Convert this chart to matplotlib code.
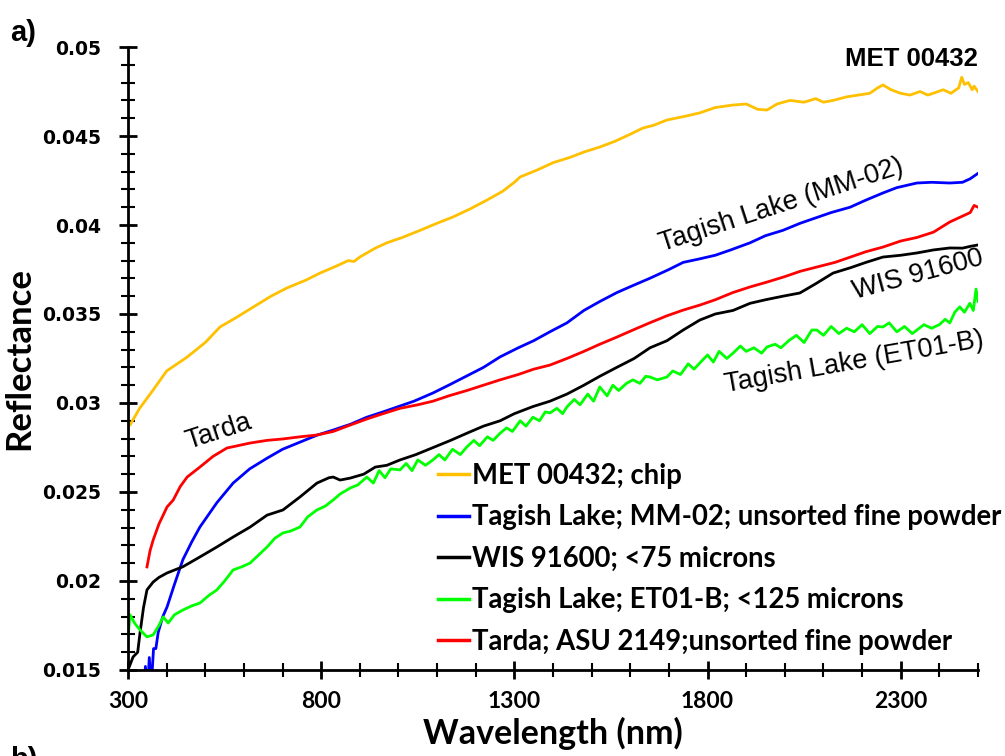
import matplotlib
matplotlib.use("Agg")
import matplotlib.pyplot as plt
from matplotlib.ticker import MultipleLocator

# ---- data (wavelength nm, reflectance) ----
met_wl = [300, 305, 330, 365, 400, 453, 500, 538, 580, 624, 670, 711, 760, 797, 840, 870, 885, 900,
          940, 970, 1010, 1056, 1100, 1141, 1185, 1229, 1270, 1300, 1315, 1360, 1400, 1444, 1480,
          1521, 1560, 1600, 1633, 1660, 1695, 1740, 1780, 1820, 1866, 1900, 1930, 1954, 1980, 2013,
          2050, 2080, 2100, 2125, 2160, 2190, 2220, 2240, 2254, 2275, 2300, 2324, 2350, 2370, 2384,
          2410, 2430, 2450, 2458, 2465, 2475, 2485, 2490, 2500]
met_r = [0.0287, 0.02876, 0.0297, 0.03073, 0.0318, 0.03258, 0.0334, 0.03427, 0.0348, 0.03539,
         0.0360, 0.03646, 0.0369, 0.0373, 0.0377, 0.0380, 0.03795, 0.0382, 0.0387, 0.0390, 0.0393,
         0.0397, 0.0401, 0.04045, 0.0409, 0.0414, 0.0419, 0.0424, 0.0427, 0.0431, 0.0435, 0.0438,
         0.0441, 0.04438, 0.0447, 0.0451, 0.04545, 0.0456, 0.0459, 0.0461, 0.0463, 0.0466, 0.04674,
         0.0468, 0.0465, 0.04646, 0.0468, 0.0470, 0.0469, 0.0471, 0.0469, 0.0470, 0.0472, 0.0473,
         0.0474, 0.0477, 0.04787, 0.0476, 0.0474, 0.0473, 0.0475, 0.0473, 0.0474, 0.0476, 0.0474,
         0.0477, 0.0483, 0.0479, 0.0480, 0.0476, 0.0478, 0.0475]

mm02_wl = [340, 345, 350, 355, 360, 366, 372, 378, 390, 401, 420, 442, 465, 486, 530, 572, 615, 660,
           700, 745, 790, 831, 875, 918, 960, 1000, 1040, 1089, 1130, 1175, 1220, 1263, 1310, 1350,
           1392, 1436, 1480, 1521, 1565, 1607, 1650, 1700, 1737, 1780, 1820, 1860, 1910, 1950, 1995,
           2040, 2080, 2120, 2169, 2210, 2254, 2290, 2342, 2380, 2427, 2460, 2480, 2500]
mm02_r = [0.0138, 0.0152, 0.0136, 0.0157, 0.0140, 0.0162, 0.0162, 0.0171, 0.0180, 0.01854, 0.0198,
          0.0212, 0.0222, 0.02303, 0.0244, 0.0255, 0.0263, 0.0269, 0.0274, 0.0278, 0.0282, 0.02848,
          0.0288, 0.0292, 0.0295, 0.0298, 0.0301, 0.03056, 0.0310, 0.0315, 0.0320, 0.03259, 0.0331,
          0.0335, 0.0340, 0.0345, 0.0352, 0.0357, 0.0362, 0.0366, 0.0370, 0.0375, 0.0379, 0.0381,
          0.0383, 0.0386, 0.0390, 0.0394, 0.0397, 0.0401, 0.0404, 0.0407, 0.0410, 0.0414, 0.0418,
          0.0421, 0.04236, 0.0424, 0.04236, 0.0424, 0.0426, 0.0429]

wis_wl = [300, 313, 325, 331, 340, 349, 365, 380, 401, 442, 486, 530, 572, 616, 660, 701, 745, 789,
          820, 831, 849, 875, 910, 940, 970, 1004, 1045, 1090, 1135, 1177, 1220, 1263, 1300, 1348,
          1392, 1436, 1480, 1521, 1565, 1610, 1651, 1695, 1737, 1780, 1820, 1866, 1910, 1950, 1995,
          2039, 2080, 2125, 2170, 2210, 2254, 2300, 2342, 2385, 2427, 2460, 2480, 2500]
wis_r = [0.0150, 0.01573, 0.0160, 0.01708, 0.0185, 0.0195, 0.01994, 0.0202, 0.02045, 0.0208,
         0.02135, 0.02191, 0.02247, 0.02303, 0.0237, 0.02399, 0.02472, 0.0255, 0.0258, 0.02584,
         0.02567, 0.02578, 0.0260, 0.0264, 0.0265, 0.0268, 0.0271, 0.0275, 0.0279, 0.0283, 0.0287,
         0.0290, 0.0294, 0.0298, 0.0301, 0.0305, 0.0310, 0.0315, 0.0320, 0.0325, 0.0331, 0.0335,
         0.0341, 0.03466, 0.0350, 0.0352, 0.0356, 0.0358, 0.0360, 0.03618, 0.0367, 0.0373, 0.0376,
         0.0379, 0.0382, 0.0383, 0.03843, 0.0386, 0.03871, 0.0387, 0.0388, 0.03888]

et01_wl = [300, 305, 318, 331, 349, 365, 380, 391, 404, 420, 442, 465, 486, 510, 530, 550, 572, 595,
           616, 640, 660, 680, 701, 720, 745, 765, 789, 810, 831, 850, 875, 895, 918, 935, 950, 965,
           980, 1004, 1020, 1035, 1050, 1070, 1089, 1105, 1120, 1140, 1160, 1177, 1195, 1210, 1230,
           1245, 1263, 1280, 1295, 1315, 1330, 1348, 1365, 1380, 1392, 1410, 1425, 1436, 1455, 1470,
           1490, 1505, 1521, 1540, 1555, 1570, 1590, 1607, 1625, 1640, 1651, 1670, 1695, 1710, 1730,
           1750, 1765, 1780, 1800, 1815, 1830, 1850, 1866, 1885, 1900, 1920, 1940, 1954, 1975, 1990,
           2010, 2030, 2050, 2070, 2083, 2100, 2120, 2140, 2160, 2180, 2200, 2220, 2240, 2254, 2270,
           2290, 2310, 2330, 2342, 2360, 2380, 2400, 2415, 2427, 2440, 2453, 2465, 2479, 2488, 2495,
           2500]
et01_r = [0.0168, 0.0181, 0.0176, 0.01725, 0.01686, 0.01697, 0.0175, 0.01798, 0.01764, 0.0181,
          0.01837, 0.0186, 0.01876, 0.0192, 0.0195, 0.0200, 0.02062, 0.0208, 0.02101, 0.0215,
          0.02191, 0.0224, 0.0227, 0.0228, 0.02303, 0.0236, 0.02399, 0.0242, 0.02455, 0.0249,
          0.02522, 0.0254, 0.02584, 0.0255, 0.0262, 0.0258, 0.0263, 0.02624, 0.0266, 0.0262, 0.0268,
          0.0265, 0.0268, 0.0271, 0.0268, 0.0274, 0.0271, 0.02753, 0.0279, 0.0276, 0.0281, 0.0279,
          0.0283, 0.0286, 0.0284, 0.0290, 0.0287, 0.0292, 0.0290, 0.0295, 0.02944, 0.0297, 0.0294,
          0.02978, 0.0302, 0.0299, 0.0305, 0.0301, 0.0309, 0.0304, 0.0310, 0.0307, 0.0311, 0.0313,
          0.0311, 0.0315, 0.03146, 0.0313, 0.03146, 0.0318, 0.0316, 0.0322, 0.0319, 0.03225, 0.0327,
          0.0323, 0.0329, 0.0325, 0.0328, 0.0332, 0.0329, 0.0331, 0.0328, 0.03315, 0.0333, 0.0331,
          0.0335, 0.0338, 0.0334, 0.0341, 0.0341, 0.0338, 0.0343, 0.0339, 0.0342, 0.0340, 0.0344,
          0.0339, 0.0343, 0.03427, 0.0345, 0.0340, 0.0343, 0.0339, 0.0341, 0.0344, 0.0342, 0.0344,
          0.0347, 0.0345, 0.0351, 0.0354, 0.0351, 0.0356, 0.0352, 0.0364, 0.0357]

tarda_wl = [349, 357, 365, 380, 401, 417, 435, 453, 486, 520, 556, 616, 660, 701, 745, 789, 831, 875,
            918, 960, 1004, 1050, 1089, 1130, 1177, 1220, 1263, 1310, 1350, 1392, 1436, 1480, 1521,
            1565, 1607, 1650, 1695, 1737, 1780, 1820, 1865, 1910, 1955, 2000, 2040, 2083, 2130, 2170,
            2210, 2254, 2300, 2342, 2385, 2427, 2460, 2480, 2490, 2500]
tarda_r = [0.02079, 0.0217, 0.0223, 0.0232, 0.02416, 0.02455, 0.0253, 0.02584, 0.0264, 0.0270,
           0.02747, 0.02775, 0.0279, 0.02798, 0.0281, 0.0282, 0.0284, 0.02876, 0.0291, 0.0294,
           0.0297, 0.0299, 0.0301, 0.0304, 0.0307, 0.0310, 0.0313, 0.0316, 0.0319, 0.03213, 0.0325,
           0.0329, 0.0333, 0.0337, 0.0341, 0.0345, 0.0349, 0.03522, 0.0355, 0.0358, 0.0362, 0.03652,
           0.0368, 0.0371, 0.0374, 0.03764, 0.0379, 0.0382, 0.0385, 0.03876, 0.0391, 0.0393, 0.0396,
           0.04017, 0.0405, 0.0407, 0.0411, 0.0410]

legend_labels = ["MET 00432; chip",
                 "Tagish Lake; MM-02; unsorted fine powder",
                 "WIS 91600; <75 microns",
                 "Tagish Lake; ET01-B; <125 microns",
                 "Tarda; ASU 2149;unsorted fine powder"]
colors = ["#FFC000", "#0000FF", "#000000", "#00FF00", "#FF0000"]

CAL = ["Lato", "DejaVu Sans"]
ARIAL = ["Liberation Sans", "DejaVu Sans"]

fig = plt.figure(figsize=(10.05, 7.56), dpi=100)
ax = fig.add_axes([0.1274, 0.1138, 0.8457, 0.824])

series = [(met_wl, met_r), (mm02_wl, mm02_r), (wis_wl, wis_r), (et01_wl, et01_r), (tarda_wl, tarda_r)]
handles = []
for (wl, r), c, lab in zip(series, colors, legend_labels):
    h, = ax.plot(wl, r, color=c, lw=2.0, label=lab, solid_joinstyle="round")
    handles.append(h)

ax.set_xlim(300, 2500)
ax.set_ylim(0.015, 0.05)
ax.xaxis.set_minor_locator(MultipleLocator(100))
ax.yaxis.set_minor_locator(MultipleLocator(0.001))
ax.set_xticks([300, 800, 1300, 1800, 2300])
ax.set_yticks([0.015, 0.02, 0.025, 0.03, 0.035, 0.04, 0.045, 0.05])
ax.set_yticklabels(["0.015", "0.02", "0.025", "0.03", "0.035", "0.04", "0.045", "0.05"])

for s in ["top", "right"]:
    ax.spines[s].set_visible(False)
for s in ["left", "bottom"]:
    ax.spines[s].set_linewidth(2)

ax.tick_params(which="major", direction="inout", length=13, width=2)
ax.tick_params(which="minor", direction="inout", length=10, width=1.5)
ax.tick_params(axis="y", pad=13)
ax.tick_params(axis="x", pad=9)
for t in ax.get_yticklabels():
    t.set_fontfamily(["DejaVu Sans"])
    t.set_fontweight("bold")
    t.set_fontsize(13.5)
for t in ax.get_xticklabels():
    t.set_fontfamily(CAL)
    t.set_fontweight("bold")
    t.set_fontsize(16.5)

ax.set_xlabel("Wavelength (nm)", family=CAL, weight="bold", fontsize=24.5, labelpad=3)
ax.set_ylabel("Reflectance", family=CAL, weight="bold", fontsize=25, labelpad=5)

# curve labels
ax.text(2500, 0.04935, "MET 00432", family=ARIAL, weight="bold", fontsize=18.5,
        ha="right", va="center")
ax.text(1990, 0.0411, "Tagish Lake (MM-02)", family=ARIAL, fontsize=19.5,
        rotation=18, ha="center", va="center", rotation_mode="anchor")
ax.text(2345, 0.0372, "WIS 91600", family=ARIAL, fontsize=19.5,
        rotation=15, ha="center", va="center", rotation_mode="anchor")
ax.text(2180, 0.0323, "Tagish Lake (ET01-B)", family=ARIAL, fontsize=19.5,
        rotation=10, ha="center", va="center", rotation_mode="anchor")
ax.text(535, 0.0284, "Tarda", family=ARIAL, fontsize=19.5,
        rotation=18, ha="center", va="center", rotation_mode="anchor")

leg = fig.legend(handles=handles, loc="upper left",
                 bbox_to_anchor=(438 / 1005, 1 - 463 / 756),
                 frameon=False, prop={"family": CAL, "size": 19.8, "weight": "bold"},
                 handlelength=1.12, handletextpad=0.12, labelspacing=0.56,
                 borderpad=0, borderaxespad=0)
for line in leg.get_lines():
    line.set_linewidth(2.5)

fig.text(0.010, 1 - 33 / 756, "a)", family=ARIAL, weight="bold", fontsize=21, va="center")
fig.text(0.010, 1 - 746 / 756, "b)", family=ARIAL, weight="bold", fontsize=21, va="top")

fig.savefig("out.png", dpi=100)
